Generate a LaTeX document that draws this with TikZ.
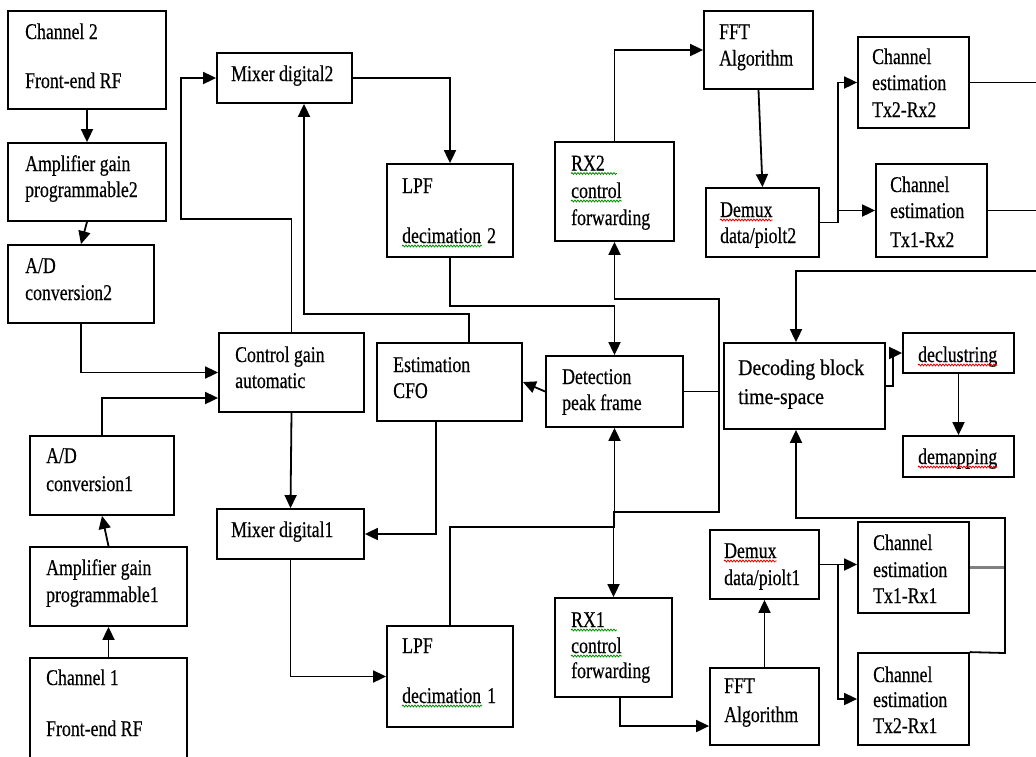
\documentclass[tikz,border=0pt]{standalone}
\usepackage{fontspec}
\setmainfont{Liberation Serif}[FakeStretch=0.79,FakeBold=0.4]
\newfontfamily\decfont{Liberation Serif}[FakeStretch=0.88,FakeBold=0.4]
\usetikzlibrary{arrows.meta,decorations.pathmorphing}
\begin{document}
\begin{tikzpicture}[x=1pt,y=-1pt,
  blk/.style={draw, line width=1.8pt, rectangle, inner sep=0pt},
  lbl/.style={inner sep=0pt, anchor=base west, font=\fontsize{22.5pt}{26pt}\selectfont},
  con/.style={line width=1.8pt},
  gcon/.style={line width=3pt, draw=black!50},
  arr/.style={con, -{Triangle[length=13pt,width=12pt]}},
  sqr/.style={draw=red!85!black, line width=0.8pt, decorate, decoration={snake, amplitude=0.9pt, segment length=3pt}},
  sqg/.style={draw=green!55!black, line width=0.8pt, decorate, decoration={snake, amplitude=0.9pt, segment length=3pt}}]
\useasboundingbox (0,0) rectangle (1036,756);
\fill[white] (0,0) rectangle (1036,756);

% boxes
\node[blk, minimum width=158pt, minimum height=98pt] (ch2) at (87,60) {};
\node[blk, minimum width=158pt, minimum height=78pt] (amp2) at (87,182) {};
\node[blk, minimum width=146pt, minimum height=78pt] (ad2) at (81,284) {};
\node[blk, minimum width=135pt, minimum height=50pt] (mix2) at (284.5,78) {};
\node[blk, minimum width=126pt, minimum height=93pt] (lpf2) at (450,210.5) {};
\node[blk, minimum width=145pt, minimum height=79pt] (cga) at (291.5,372.5) {};
\node[blk, minimum width=145pt, minimum height=78pt] (cfo) at (449.5,382) {};
\node[blk, minimum width=137pt, minimum height=71pt] (det) at (614.5,391.5) {};
\node[blk, minimum width=119pt, minimum height=99pt] (rx2) at (614.5,191.5) {};
\node[blk, minimum width=109pt, minimum height=78pt] (fft2) at (758.5,50) {};
\node[blk, minimum width=113pt, minimum height=69pt] (dmx2) at (762.5,222.5) {};
\node[blk, minimum width=111pt, minimum height=91pt] (ce22) at (913.5,82.5) {};
\node[blk, minimum width=111pt, minimum height=93pt] (ce12) at (931.5,210.5) {};
\node[blk, minimum width=161pt, minimum height=86pt] (dec) at (804.5,386) {};
\node[blk, minimum width=111pt, minimum height=40pt] (dcl) at (958.5,353) {};
\node[blk, minimum width=111pt, minimum height=41pt] (dmp) at (958.5,456.5) {};
\node[blk, minimum width=144pt, minimum height=79pt] (ad1) at (102,475.5) {};
\node[blk, minimum width=157pt, minimum height=79pt] (amp1) at (108.5,586.5) {};
\node[blk, minimum width=157pt, minimum height=132pt] (ch1) at (108.5,724) {};
\node[blk, minimum width=147pt, minimum height=50pt] (mix1) at (290.5,534) {};
\node[blk, minimum width=126pt, minimum height=101pt] (lpf1) at (450,676.5) {};
\node[blk, minimum width=117pt, minimum height=99pt] (rx1) at (613.5,647.5) {};
\node[blk, minimum width=109pt, minimum height=77pt] (fft1) at (764.5,706.5) {};
\node[blk, minimum width=109pt, minimum height=69pt] (dmx1) at (764.5,564.5) {};
\node[blk, minimum width=111pt, minimum height=91pt] (ce11) at (913.5,567.5) {};
\node[blk, minimum width=111pt, minimum height=92pt] (ce21) at (913.5,699) {};

% labels
\node[lbl] (ch2a) at (25,39) {Channel 2};
\node[lbl] (ch2b) at (25,88) {Front-end RF};
\node[lbl] (amp2a) at (25,171) {Amplifier gain};
\node[lbl] (amp2b) at (25,197) {programmable2};
\node[lbl] (ad2a) at (25,273) {A/D};
\node[lbl] (ad2b) at (25,300) {conversion2};
\node[lbl] (mix2a) at (231,81) {Mixer digital2};
\node[lbl] (lpf2a) at (402,193) {LPF};
\node[lbl] (lpf2b) at (402,243) {decimation\hspace{6pt}2};
\node[lbl] (cgaa) at (235,362) {Control gain};
\node[lbl] (cgab) at (235,388) {automatic};
\node[lbl] (cfoa) at (393,372) {Estimation};
\node[lbl] (cfob) at (393,398) {CFO};
\node[lbl] (deta) at (562,384) {Detection};
\node[lbl] (detb) at (562,410) {peak frame};
\node[lbl] (fft2a) at (719,39) {FFT};
\node[lbl] (fft2b) at (719,65.5) {Algorithm};
\node[lbl] (ce22a) at (872,64) {Channel};
\node[lbl] (ce22b) at (872,90) {estimation};
\node[lbl] (ce22c) at (872,117) {Tx2-Rx2};
\node[lbl] (rx2a) at (571,170.5) {RX2};
\node[lbl] (rx2b) at (571,198) {control};
\node[lbl] (rx2c) at (571,225) {forwarding};
\node[lbl] (dmx2a) at (720,217) {Demux};
\node[lbl] (dmx2b) at (720,243) {data/piolt2};
\node[lbl] (ce12a) at (890,192) {Channel};
\node[lbl] (ce12b) at (890,218) {estimation};
\node[lbl] (ce12c) at (890,247) {Tx1-Rx2};
\node[lbl, font=\decfont\fontsize{22.5pt}{26pt}\selectfont] (deca) at (738,375) {Decoding block};
\node[lbl, font=\decfont\fontsize{22.5pt}{26pt}\selectfont] (decb) at (738,404) {time-space};
\node[lbl] (dcla) at (918,362) {declustring};
\node[lbl] (dmpa) at (918,464) {demapping};
\node[lbl] (ad1a) at (46,463) {A/D};
\node[lbl] (ad1b) at (46,491) {conversion1};
\node[lbl] (amp1a) at (46,575) {Amplifier gain};
\node[lbl] (amp1b) at (46,602) {programmable1};
\node[lbl] (ch1a) at (46,685) {Channel 1};
\node[lbl] (ch1b) at (46,736) {Front-end RF};
\node[lbl] (mix1a) at (231,537) {Mixer digital1};
\node[lbl] (lpf1a) at (402,653) {LPF};
\node[lbl] (lpf1b) at (402,703) {decimation\hspace{6pt}1};
\node[lbl] (rx1a) at (571,627) {RX1};
\node[lbl] (rx1b) at (571,653) {control};
\node[lbl] (rx1c) at (571,678) {forwarding};
\node[lbl] (fft1a) at (724,693) {FFT};
\node[lbl] (fft1b) at (724,722) {Algorithm};
\node[lbl] (dmx1a) at (724,558) {Demux};
\node[lbl] (dmx1b) at (724,585) {data/piolt1};
\node[lbl] (ce11a) at (873,550) {Channel};
\node[lbl] (ce11b) at (873,577) {estimation};
\node[lbl] (ce11c) at (873,603) {Tx1-Rx1};
\node[lbl] (ce21a) at (873,682) {Channel};
\node[lbl] (ce21b) at (873,707) {estimation};
\node[lbl] (ce21c) at (873,733) {Tx2-Rx1};

% spell-check underlines
\draw[sqg] ([yshift=-3pt]lpf2b.base west) -- ++(80,0);
\draw[sqg] ([yshift=-3pt]lpf1b.base west) -- ++(80,0);
\draw[sqg] ([yshift=-3pt]rx2a.base west) -- ([yshift=-3pt,xshift=12pt]rx2a.base east);
\draw[sqg] ([yshift=-3pt]rx2b.base west) -- ([yshift=-3pt]rx2b.base east);
\draw[sqg] ([yshift=-3pt]rx1a.base west) -- ([yshift=-3pt,xshift=12pt]rx1a.base east);
\draw[sqg] ([yshift=-3pt]rx1b.base west) -- ([yshift=-3pt]rx1b.base east);
\draw[sqr] ([yshift=-3pt]dmx2a.base west) -- ([yshift=-3pt]dmx2a.base east);
\draw[sqr] ([yshift=-3pt]dmx1a.base west) -- ([yshift=-3pt]dmx1a.base east);
\draw[sqr] ([yshift=-3pt]dcla.base west) -- ([yshift=-3pt]dcla.base east);
\draw[sqr] ([yshift=-3pt]dmpa.base west) -- ([yshift=-3pt]dmpa.base east);

% free ends and junctions
\coordinate (r1) at (1040,82.5);
\coordinate (r2) at (1040,210.5);
\coordinate (r3) at (1040,271);
\coordinate (jd) at (719,391.5);
\coordinate (j2) at (838,210.5);
\coordinate (j1) at (838,564.5);

% connectors, left chain 2
\draw[arr] (ch2.south) -- (amp2.north);
\draw[arr] (amp2.south) -- (ad2.north);
\draw[arr] (ad2.south) |- (cga.west);
\draw[arr] (cga.north) |- (181,219) |- (mix2.west);
\draw[arr] (mix2.east) -| (lpf2.north);
\draw[arr] (cfo.north -| 469,0) |- (304,314) -- (mix2.south -| 304,0);
\draw[arr] (lpf2.south) |- (det.north |- 0,306) -- (det.north);
% left chain 1
\draw[arr] (ch1.north) -- (amp1.south);
\draw[arr] (amp1.north) -- (ad1.south);
\draw[arr] (ad1.north) |- ([yshift=-25.5pt]cga.west);
\draw[arr] (cga.south) -- (mix1.north);
\draw[arr] (cfo.south -| 436,0) |- (mix1.east);
\draw[arr] (mix1.south) |- (lpf1.west);
\draw[arr] (lpf1.north) |- (det.south |- 0,527) -- (det.south);
% detection
\draw[arr] (det.west) -- (cfo.east);
\draw[arr] (det.east) -- (jd) |- (rx2.south |- 0,299) -- (rx2.south);
\draw[arr] (jd) |- (rx1.north |- 0,512) -- (rx1.north);
% receiver 2
\draw[arr] (rx2.north) |- (fft2.west);
\draw[arr] (fft2.south) -- (dmx2.north);
\draw[arr] (dmx2.east) -| (838,150) |- (ce22.west);
\draw[arr] (j2) -- (ce12.west);
\draw[con] (ce22.east) -- (r1);
\draw[con] (ce12.east) -- (r2);
\draw[arr] (r3) -| (dec.north -| 796,0);
\draw[arr] (dec.east) -| (893,370) |- (dcl.west);
\draw[arr] (dcl.south) -- (dmp.north);
% receiver 1
\draw[arr] (rx1.south -| 620,0) |- (fft1.west |- 0,726);
\draw[arr] (fft1.north) -- (dmx1.south);
\draw[arr] (dmx1.east) -- (dmx1.east -| ce11.west);
\draw[arr] (j1) |- (ce21.west);
\draw[gcon] (ce11.east) -- (ce11.east -| 1005,0);
\draw[arr] (ce21.north east) -- (1005,653) -- (1005,518) -| (dec.south -| 796,0);
\end{tikzpicture}
\end{document}
